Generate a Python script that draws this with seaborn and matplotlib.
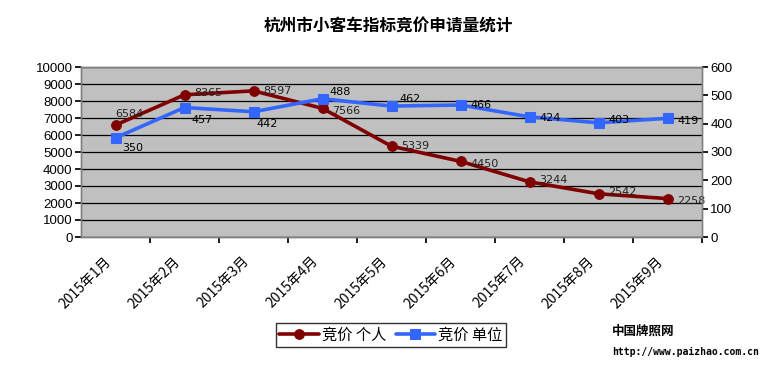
import matplotlib
matplotlib.use("Agg")
import matplotlib.pyplot as plt
import seaborn as sns
import pandas as pd
import numpy as np

months = ["2015年1月", "2015年2月", "2015年3月", "2015年4月", "2015年5月",
          "2015年6月", "2015年7月", "2015年8月", "2015年9月"]
personal = [6584, 8365, 8597, 7566, 5339, 4450, 3244, 2542, 2258]
company = [350, 457, 442, 488, 462, 466, 424, 403, 419]
left_ticks = list(range(0, 10001, 1000))
right_ticks = list(range(0, 601, 100))
title = "杭州市小客车指标竞价申请量统计"
series_names = ["竞价 个人", "竞价 单位"]

sns.set_theme(style="white")
plt.rcParams['font.family'] = ['Noto Sans CJK SC', 'DejaVu Sans']
plt.rcParams['text.color'] = 'black'
plt.rcParams['xtick.color'] = 'black'
plt.rcParams['ytick.color'] = 'black'
plt.rcParams['legend.labelcolor'] = 'black'

RED = "#800000"
BLUE = "#3366FF"

df = pd.DataFrame({"pos": np.arange(len(months)), "month": months,
                   "personal": personal, "company": company})

fig = plt.figure(figsize=(7.72, 3.68), dpi=100)
ax = fig.add_axes([81/772, 1-237/368, 621/772, 170/368])
ax2 = ax.twinx()

ax.set_facecolor("#C0C0C0")
ax.set_zorder(1)
ax2.set_zorder(2)
ax2.patch.set_visible(False)

sns.lineplot(data=df, x="pos", y="personal", ax=ax, color=RED, lw=2.6,
             marker="o", markersize=7, markeredgecolor=RED, zorder=5, label=series_names[0], legend=False)
sns.lineplot(data=df, x="pos", y="company", ax=ax2, color=BLUE, lw=2.6,
             marker="s", markersize=7, markeredgecolor=BLUE, zorder=5, label=series_names[1], legend=False)

ax.set_xlim(-0.5, len(months) - 0.5)
ax.set_ylim(0, 10000)
ax2.set_ylim(0, 600)
ax.set_yticks(left_ticks)
ax2.set_yticks(right_ticks)
ax.set_yticklabels([str(v) for v in left_ticks], fontsize=9.5, family=['Liberation Sans'])
ax2.set_yticklabels([str(v) for v in right_ticks], fontsize=9.5, family=['Liberation Sans'])
ax.yaxis.grid(True, color="black", lw=0.9)
ax.set_axisbelow(True)

ax.set_xticks(np.arange(len(months)) + 0.5, minor=False)
ax.set_xticklabels([])
ax.set_xlabel("")
ax.set_ylabel("")
ax2.set_ylabel("")
ax2.set_xlabel("")
ax.tick_params(axis="x", direction="out", length=4, color="black", bottom=True)
ax.tick_params(axis="y", direction="out", length=4, left=True, color="black", pad=2)
ax2.tick_params(axis="y", direction="out", length=4, right=True, color="black", pad=2)
for i, m in enumerate(months):
    ax.text(i - 0.17, -1000, m, rotation=45, ha="right", va="top", rotation_mode="anchor",
            fontsize=10, color="black", transform=ax.transData, clip_on=False)

for a in (ax, ax2):
    for s in a.spines.values():
        s.set_color("#808080")
        s.set_linewidth(1)

# data labels
p_off = [(0, 8), (7, 1), (7, 0), (7, -2), (7, 0), (7, -2), (7, 1), (7, 1), (7, -2)]
c_off = [(5, -7), (5, -9), (2, -9), (5, 5), (6, 5), (7, 0), (7, -1), (7, 2), (7, -2)]
for i, v in enumerate(personal):
    dx, dy = p_off[i]
    ax.annotate(str(v), (i, v), xytext=(dx, dy), textcoords="offset points",
                fontsize=8, ha="left", va="center", color="#222222", family=['DejaVu Sans'], zorder=10)
for i, v in enumerate(company):
    dx, dy = c_off[i]
    ax2.annotate(str(v), (i, v), xytext=(dx, dy), textcoords="offset points",
                 fontsize=8, ha="left", va="center", color="black", family=['DejaVu Sans'], zorder=10)

h1, l1 = ax.get_legend_handles_labels()
h2, l2 = ax2.get_legend_handles_labels()
leg = fig.legend(h1 + h2, l1 + l2, loc="center", bbox_to_anchor=(391/772, 1-335/368),
                 ncol=2, frameon=True, fancybox=False, fontsize=11, handlelength=2.6,
                 borderpad=0.2, columnspacing=0.6, handletextpad=0.2)
leg.get_frame().set_edgecolor("black")
leg.get_frame().set_linewidth(1)

fig.text(388/772, 1-27/368, title, ha="center", va="center", fontsize=12, fontweight="bold", color="black")
fig.text(612/772, 1-331/368, "中国牌照网", ha="left", va="center", fontsize=9, fontweight="bold", color="black")
fig.text(612/772, 1-352/368, "http://www.paizhao.com.cn", ha="left", va="center", fontsize=7,
         family=['DejaVu Sans Mono'], fontweight="bold", color="black")

fig.savefig("out.png", dpi=100)
